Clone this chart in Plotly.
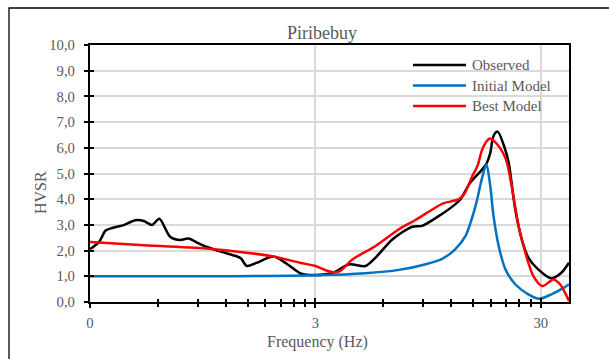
import plotly.graph_objects as go
import math

# ---- data -------------------------------------------------------------
obs_freq = [0.30, 0.33, 0.352, 0.376, 0.42, 0.477, 0.52, 0.566, 0.609, 0.68,
            0.755, 0.82, 0.924, 1.02, 1.15, 1.32, 1.40, 1.49, 1.64, 1.95,
            2.23, 2.60, 3.00, 3.59, 4.24, 5.00, 5.55, 6.60, 8.07, 8.90,
            10.6, 12.5, 13.2, 14.6, 16.5, 17.3, 17.9, 18.5, 19.3, 20.6,
            21.6, 23.1, 24.7, 26.4, 29.2, 33.4, 37.0, 40.0]
obs_hvsr = [2.05, 2.35, 2.78, 2.88, 2.98, 3.18, 3.15, 3.00, 3.24, 2.54,
            2.41, 2.47, 2.25, 2.10, 1.95, 1.80, 1.70, 1.40, 1.52, 1.77,
            1.50, 1.10, 1.05, 1.14, 1.47, 1.40, 1.73, 2.44, 2.93, 2.96,
            3.35, 3.80, 4.00, 4.65, 5.16, 5.42, 5.80, 6.46, 6.63, 6.07,
            5.42, 3.60, 2.44, 1.73, 1.27, 0.92, 1.14, 1.53]

init_freq = [0.30, 1.0, 3.0, 5.0, 7.04, 9.26, 11.0, 12.5, 13.9, 15.4,
             16.4, 17.2, 17.9, 18.5, 19.5, 20.9, 23.1, 26.4, 29.6, 33.4,
             38.0, 40.0]
init_hvsr = [1.00, 1.00, 1.04, 1.12, 1.25, 1.47, 1.69, 2.05, 2.57, 3.74,
             4.77, 5.36, 4.51, 3.35, 2.18, 1.27, 0.69, 0.30, 0.13, 0.30,
             0.56, 0.69]

best_freq = [0.30, 0.50, 0.98, 1.39, 1.95, 2.56, 3.00, 3.30, 3.60, 3.85,
             4.39, 5.55, 7.04, 8.33, 9.90, 11.0, 13.0, 13.7, 14.9, 15.7,
             16.6, 17.8, 19.2, 21.0, 22.4, 23.9, 25.6, 27.8, 30.5, 34.1,
             36.5, 40.0]
best_hvsr = [2.33, 2.22, 2.08, 1.95, 1.77, 1.53, 1.40, 1.25, 1.16, 1.20,
             1.66, 2.18, 2.83, 3.19, 3.60, 3.83, 4.00, 4.19, 4.90, 5.29,
             6.00, 6.36, 6.14, 5.55, 4.38, 2.96, 1.92, 1.01, 0.62, 0.88,
             0.69, 0.04]

series_names = ["Observed", "Initial Model", "Best Model"]
series_colors = ["#000000", "#0070C0", "#FF0000"]

x_tick_vals = [0.3, 3, 30]
x_tick_text = ["0", "3", "30"]
x_minor_vals = [0.3 * k for k in range(2, 10)] + [3 * k for k in range(2, 10)]
x_limits = [0.3, 40]
y_limits = [0, 10]

# ---- layout geometry ----------------------------------------------------
FIG_W, FIG_H = 609, 359
M_L, M_R, M_T, M_B = 90, 40, 45, 57
PW = FIG_W - M_L - M_R
PH = FIG_H - M_T - M_B


def px_x(px):
    return (px - M_L) / PW


def px_y(py):
    return (FIG_H - M_B - py) / PH


SERIF = "Liberation Serif, Times New Roman, serif"
GREY = "#595959"

fig = go.Figure()
for xs, ys, name, col in zip([obs_freq, init_freq, best_freq],
                             [obs_hvsr, init_hvsr, best_hvsr],
                             series_names, series_colors):
    fig.add_trace(go.Scatter(x=xs, y=ys, name=name, mode="lines",
                             line=dict(color=col, width=2.5, shape="spline",
                                       smoothing=0.8),
                             showlegend=False))

# empty trace that hosts the overlay axes used for the inner half of the ticks
fig.add_trace(go.Scatter(x=[None], y=[None], xaxis="x2", yaxis="y2",
                         showlegend=False, hoverinfo="skip"))

xr = [math.log10(x_limits[0]), math.log10(x_limits[1])]
tickfont = dict(family=SERIF, size=14.7, color=GREY)

fig.update_layout(
    width=FIG_W, height=FIG_H,
    margin=dict(l=M_L, r=M_R, t=M_T, b=M_B),
    paper_bgcolor="white", plot_bgcolor="white",
    separators=",.",
    title=dict(text="Piribebuy", x=322 / FIG_W, y=1 - 32.5 / FIG_H,
               xanchor="center", yanchor="middle",
               font=dict(family=SERIF, size=18, color=GREY)),
    xaxis=dict(type="log", range=xr, tickmode="array",
               tickvals=x_tick_vals, ticktext=x_tick_text,
               ticks="outside", ticklen=4, tickwidth=2, tickcolor="black",
               ticklabelstandoff=2,
               minor=dict(tickmode="array", tickvals=x_minor_vals,
                          ticks="outside", ticklen=3, tickwidth=2,
                          tickcolor="black", showgrid=False),
               showgrid=True, gridcolor="#D9D9D9", gridwidth=1.5,
               showline=True, linecolor="black", linewidth=2.2, mirror=True,
               tickfont=tickfont, zeroline=False, fixedrange=True),
    yaxis=dict(range=y_limits, tickmode="linear", tick0=0, dtick=1,
               tickformat=".1f",
               ticks="outside", ticklen=4, tickwidth=2, tickcolor="black",
               ticklabelstandoff=6,
               showgrid=True, gridcolor="#D9D9D9", gridwidth=1.5,
               showline=True, linecolor="black", linewidth=2.2, mirror=True,
               tickfont=tickfont, zeroline=False, fixedrange=True),
    xaxis2=dict(type="log", range=xr, overlaying="x", anchor="y",
                side="bottom", tickmode="array", tickvals=x_tick_vals,
                ticks="inside", ticklen=4, tickwidth=2, tickcolor="black",
                minor=dict(tickmode="array", tickvals=x_minor_vals,
                           ticks="inside", ticklen=3, tickwidth=2,
                           tickcolor="black", showgrid=False),
                showticklabels=False, showgrid=False, showline=False,
                zeroline=False, fixedrange=True),
    yaxis2=dict(range=y_limits, overlaying="y", anchor="x", side="left",
                tickmode="linear", tick0=0, dtick=1,
                ticks="inside", ticklen=4, tickwidth=2, tickcolor="black",
                showticklabels=False, showgrid=False, showline=False,
                zeroline=False, fixedrange=True),
)

# axis titles
fig.add_annotation(text="HVSR", x=px_x(40), y=px_y(193), xref="paper",
                   yref="paper", textangle=-90, showarrow=False,
                   xanchor="center", yanchor="middle",
                   font=dict(family=SERIF, size=16, color=GREY))
fig.add_annotation(text="Frequency (Hz)", x=px_x(317), y=px_y(342),
                   xref="paper", yref="paper", showarrow=False,
                   xanchor="center", yanchor="middle",
                   font=dict(family=SERIF, size=16, color=GREY))

# legend keys
legend_rows = [65, 85.5, 106]
for name, col, ry in zip(series_names, series_colors, legend_rows):
    fig.add_shape(type="line", xref="paper", yref="paper",
                  x0=px_x(413), x1=px_x(466), y0=px_y(ry), y1=px_y(ry),
                  line=dict(color=col, width=2.5))
    fig.add_annotation(text=name, x=px_x(470), y=px_y(ry), xref="paper",
                       yref="paper", showarrow=False, xanchor="left",
                       yanchor="middle",
                       font=dict(family=SERIF, size=15, color=GREY))

# chart-area border
fig.add_shape(type="rect", xref="paper", yref="paper",
              x0=px_x(9), x1=px_x(660), y0=px_y(8), y1=px_y(420),
              line=dict(color="black", width=1.3), fillcolor="rgba(0,0,0,0)",
              layer="below")

fig.write_html("out.html")
